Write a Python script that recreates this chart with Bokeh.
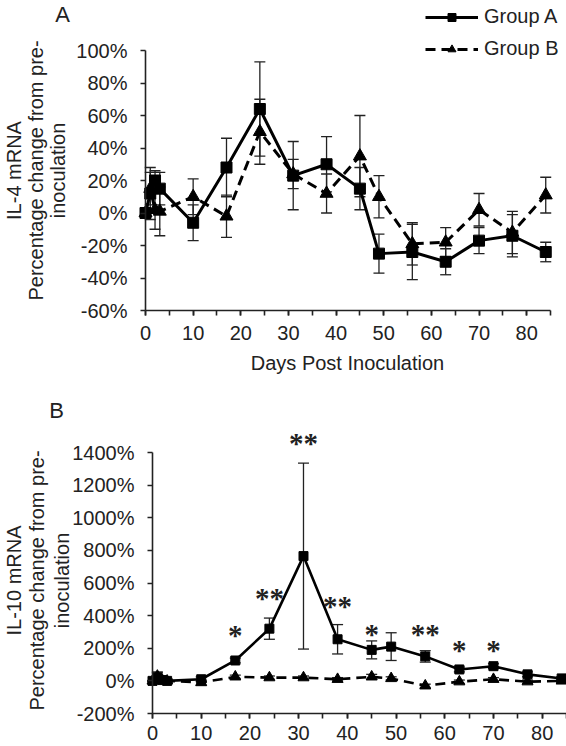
import math
from bokeh.plotting import figure
from bokeh.models import (Range1d, Whisker, TeeHead, ColumnDataSource, Legend, LegendItem,
                          Label, LabelSet, LinearAxis, PrintfTickFormatter, SingleIntervalTicker)
from bokeh.embed import file_html
from bokeh.resources import INLINE

# ---------------- data ----------------
days = [0, 1, 2, 3, 10, 17, 24, 31, 38, 45, 49, 56, 63, 70, 77, 84]

il4_a = [0, 12, 20, 15, -6, 28, 64, 23, 30, 15, -25, -24, -30, -17, -14, -24]
il4_a_err = [0, 16, 6, 10, 11, 18, 29, 21, 17, 13, 12, 17, 8, 8, 13, 6]
il4_b = [0, 15, 2, 1, 10, -2, 50, 24, 12, 35, 10, -19, -18, 2, -12, 11]
il4_b_err = [0, 10, 12, 15, 11, 13, 20, 9, 12, 25, 13, 13, 9, 10, 13, 11]

il10_a = [0, 20, 5, 0, 10, 125, 320, 765, 255, 190, 210, 150, 70, 90, 40, 15]
il10_a_err = [0, 30, 10, 10, 15, 15, 65, 570, 90, 55, 85, 35, 15, 15, 15, 10]
il10_b = [0, 30, 5, 0, -10, 25, 20, 20, 10, 25, 15, -30, -5, 10, -5, 0]
il10_b_err = [0, 25, 10, 10, 15, 10, 10, 10, 10, 15, 10, 10, 10, 10, 10, 10]

sig_days = [17, 24, 31, 38, 45, 56, 63, 70]
sig_text = ["*", "**", "**", "**", "*", "**", "*", "*"]
sig_y = [282, 509, 1459, 462, 286, 286, 190, 190]

ylabel_a = ["IL-4 mRNA", "Percentage change from pre-", "inoculation"]
ylabel_b = ["IL-10 mRNA", "Percentage change from pre-", "inoculation"]
xlabel = "Days Post Inoculation"
x_lim = (0, 85)
y_lim_a = (-60, 100)
y_lim_b = (-200, 1400)

FONT = "Liberation Sans"
INK = "#222222"


class Panel:
    """Figure whose frame fills the canvas; axes are placed at fixed data locations."""

    def __init__(self, W, H, px_x0, px_x1, px_y0, px_y1, xlim, ylim):
        self.W, self.H = W, H
        kx = (xlim[1] - xlim[0]) / (px_x1 - px_x0)
        ky = (ylim[1] - ylim[0]) / (px_y0 - px_y1)
        self.xs = xlim[0] - px_x0 * kx
        self.xe = xlim[1] + (W - px_x1) * kx
        self.yt = ylim[1] + px_y1 * ky
        self.yb = ylim[0] - (H - px_y0) * ky
        self.kx, self.ky = kx, ky
        self.p = figure(width=W, height=H, output_backend="svg", toolbar_location=None,
                        x_range=Range1d(self.xs, self.xe), y_range=Range1d(self.yb, self.yt),
                        x_axis_location=None, y_axis_location=None,
                        min_border=0, min_border_left=0, min_border_right=0,
                        min_border_top=0, min_border_bottom=0)
        p = self.p
        p.outline_line_color = None
        p.xgrid.grid_line_color = None
        p.ygrid.grid_line_color = None

    def dx(self, px):
        return self.xs + px * self.kx

    def dy(self, py):
        return self.yt - py * self.ky

    def text(self, s, px, py, size="20px", angle=0.0):
        self.p.add_layout(Label(x=self.dx(px), y=self.dy(py), text=s, angle=angle,
                                text_align="center", text_baseline="middle",
                                text_font=FONT, text_font_size=size, text_color=INK))


def make_axis(fixed, bounds, ticker, label_standoff):
    ax = LinearAxis(fixed_location=fixed, bounds=bounds, ticker=ticker)
    ax.axis_line_color = INK
    ax.axis_line_width = 1.6
    ax.major_tick_line_color = INK
    ax.major_tick_line_width = 1.6
    ax.minor_tick_line_color = INK
    ax.minor_tick_line_width = 1.6
    ax.major_tick_in = 0
    ax.major_tick_out = 5
    ax.minor_tick_in = 0
    ax.minor_tick_out = 5
    ax.major_label_text_font = FONT
    ax.major_label_text_font_size = "20px"
    ax.major_label_text_color = INK
    ax.major_label_standoff = label_standoff
    return ax


def add_axes(panel, ylim, y_interval, xstandoff):
    p = panel.p
    yax = make_axis(x_lim[0], ylim, SingleIntervalTicker(interval=y_interval, num_minor_ticks=0), 13)
    yax.minor_tick_out = 0
    yax.formatter = PrintfTickFormatter(format="%d%%")
    p.add_layout(yax, "left")
    xax = make_axis(ylim[0], x_lim, SingleIntervalTicker(interval=10, num_minor_ticks=2), xstandoff)
    p.add_layout(xax, "below")


def add_series(p, a, a_err, b, b_err, msize, lw):
    src_a = ColumnDataSource(dict(x=days, y=a,
                                  up=[v + e for v, e in zip(a, a_err)],
                                  lo=[v - e for v, e in zip(a, a_err)]))
    src_b = ColumnDataSource(dict(x=days, y=b,
                                  up=[v + e for v, e in zip(b, b_err)],
                                  lo=[v - e for v, e in zip(b, b_err)]))
    for src in (src_b, src_a):
        w = Whisker(source=src, base="x", upper="up", lower="lo",
                    line_color=INK, line_width=1.3,
                    upper_head=TeeHead(size=11, line_color=INK, line_width=1.3),
                    lower_head=TeeHead(size=11, line_color=INK, line_width=1.3))
        p.add_layout(w)
    lb = p.line("x", "y", source=src_b, line_color="black", line_width=lw, line_dash="10 6")
    sb = p.scatter("x", "y", source=src_b, marker="triangle", size=msize + 2,
                   fill_color="black", line_color="black")
    la = p.line("x", "y", source=src_a, line_color="black", line_width=lw)
    sa = p.scatter("x", "y", source=src_a, marker="square", size=msize,
                   fill_color="black", line_color="black")
    return (la, sa), (lb, sb)


# ---------------- panel A ----------------
A = Panel(566, 385, 145, 550, 310, 50, x_lim, y_lim_a)
add_axes(A, y_lim_a, 20, 10)
(ga, gb) = add_series(A.p, il4_a, il4_a_err, il4_b, il4_b_err, 11, 3)
for s, px in zip(ylabel_a, [13, 35, 57]):
    A.text(s, px, 170, angle=math.pi / 2)
A.text(xlabel, 347, 362)
A.text("A", 62, 14, size="22px")

legend = Legend(items=[LegendItem(label="Group A", renderers=list(ga)),
                       LegendItem(label="Group B", renderers=list(gb))],
                location=(425, 325), orientation="vertical",
                label_text_font=FONT, label_text_font_size="20px", label_text_color=INK,
                glyph_width=53, glyph_height=20, label_height=20, label_standoff=6,
                spacing=9, padding=0, margin=0,
                border_line_color=None, background_fill_alpha=0)
A.p.add_layout(legend, "center")

# ---------------- panel B ----------------
B = Panel(566, 361, 152, 566, 328, 67, x_lim, y_lim_b)
add_axes(B, y_lim_b, 200, 7)
add_series(B.p, il10_a, il10_a_err, il10_b, il10_b_err, 9, 2.6)
for s, px in zip(ylabel_b, [13, 36, 61]):
    B.text(s, px, 195, angle=math.pi / 2)
B.text("B", 56, 25, size="22px")

sig_src = ColumnDataSource(dict(x=sig_days, y=sig_y, t=sig_text))
B.p.add_layout(LabelSet(x="x", y="y", text="t", source=sig_src,
                        text_font=FONT, text_font_size="29px", text_font_style="bold",
                        text_align="center", text_baseline="middle", text_color=INK))

open("out.html", "w").write(file_html([A.p, B.p], INLINE))
